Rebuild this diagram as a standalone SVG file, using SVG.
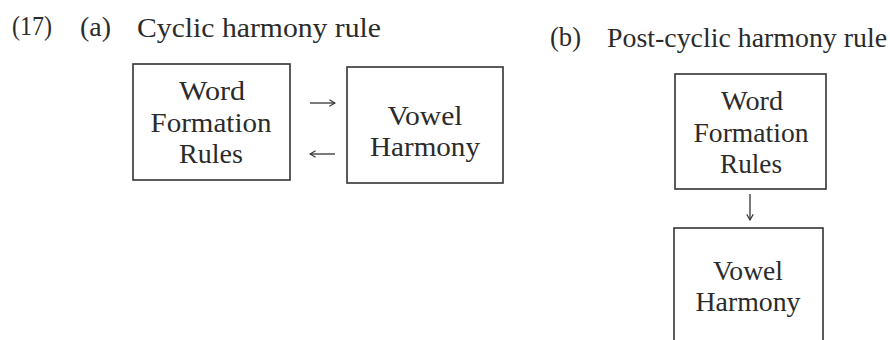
<svg xmlns="http://www.w3.org/2000/svg" width="890" height="340" viewBox="0 0 890 340">
  <defs>
    <style>
      text { font-family: "Liberation Serif", "Times New Roman", serif; font-size: 28px; fill: #2b2b2b; }
      .box rect { fill: none; stroke: #333; stroke-width: 1.6; }
      .box text { text-anchor: middle; }
      .conn path { fill: none; stroke: #333; stroke-width: 1.3; }
    </style>
    <marker id="head" viewBox="0 0 10 10" refX="9" refY="5" markerWidth="8" markerHeight="8" markerUnits="userSpaceOnUse" orient="auto">
      <path d="M2,1 L9,5 L2,9" fill="none" stroke="#333" stroke-width="1.4"/>
    </marker>
  </defs>
  <rect width="890" height="340" fill="#ffffff"/>

  <g id="titles">
    <text x="12" y="35" textLength="40" lengthAdjust="spacingAndGlyphs">(17)</text>
    <text x="80" y="36" textLength="31" lengthAdjust="spacingAndGlyphs">(a)</text>
    <text x="137" y="37" textLength="244" lengthAdjust="spacingAndGlyphs">Cyclic harmony rule</text>
    <text x="550" y="46" textLength="31" lengthAdjust="spacingAndGlyphs">(b)</text>
    <text x="607" y="47" textLength="280" lengthAdjust="spacingAndGlyphs">Post-cyclic harmony rule</text>
  </g>

  <g id="a-wfr" class="box">
    <rect x="133" y="64" width="157" height="116"/>
    <text x="212" y="100" textLength="66" lengthAdjust="spacingAndGlyphs">Word</text>
    <text x="211" y="132" textLength="121" lengthAdjust="spacingAndGlyphs">Formation</text>
    <text x="211" y="163" textLength="64" lengthAdjust="spacingAndGlyphs">Rules</text>
  </g>

  <g id="a-vh" class="box">
    <rect x="347" y="67" width="156" height="116"/>
    <text x="425" y="125" textLength="75" lengthAdjust="spacingAndGlyphs">Vowel</text>
    <text x="425" y="156" textLength="110" lengthAdjust="spacingAndGlyphs">Harmony</text>
  </g>

  <g id="b-wfr" class="box">
    <rect x="675" y="74" width="151" height="115"/>
    <text x="752" y="110" textLength="62" lengthAdjust="spacingAndGlyphs">Word</text>
    <text x="751" y="142" textLength="115" lengthAdjust="spacingAndGlyphs">Formation</text>
    <text x="751" y="173" textLength="62" lengthAdjust="spacingAndGlyphs">Rules</text>
  </g>

  <g id="b-vh" class="box">
    <rect x="674" y="228" width="149" height="130"/>
    <text x="748" y="280" textLength="70" lengthAdjust="spacingAndGlyphs">Vowel</text>
    <text x="748" y="311" textLength="105" lengthAdjust="spacingAndGlyphs">Harmony</text>
  </g>

  <g id="connectors" class="conn">
    <path d="M310,103 L335,103" marker-end="url(#head)"/>
    <path d="M335,154 L310,154" marker-end="url(#head)"/>
    <path d="M750,194 L750,220" marker-end="url(#head)"/>
  </g>
</svg>
